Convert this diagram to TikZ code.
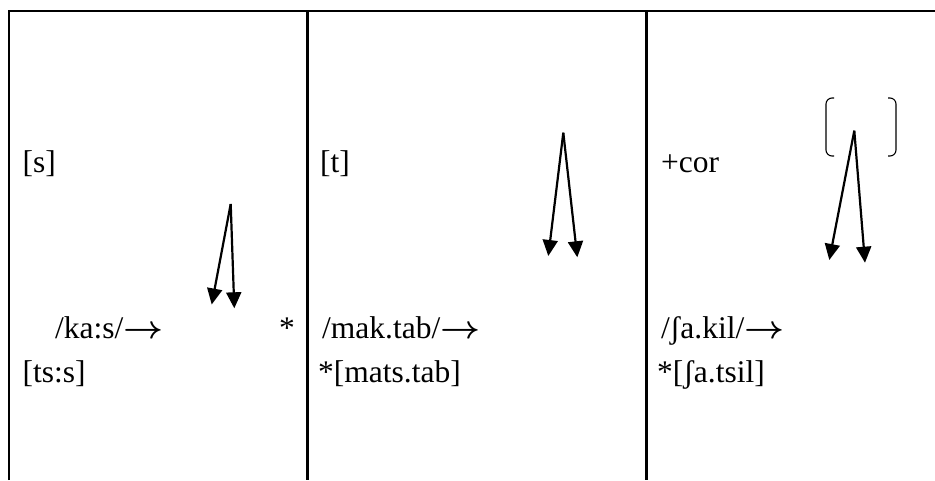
\documentclass[tikz,border=0pt]{standalone}
\usepackage{fontspec}
\setmainfont{Liberation Serif}
\usepackage{tikz}
\usetikzlibrary{arrows.meta}

\newcommand{\becomes}{\scalebox{1.4}[1.3]{\boldmath$\rightarrow$}}

\begin{document}
\begin{tikzpicture}[x=1pt, y=-1pt,
        rule/.style={line width=2.4pt},
        fork/.style={line width=2.2pt, -{Triangle[length=16pt, width=15pt]}},
        form/.style={anchor=base west, inner sep=0pt, font=\fontsize{31.5}{36}\selectfont}]
        \useasboundingbox (0,0) rectangle (935,480);

        \draw[rule] (8.7,480) -- (8.7,11.2) -- (935,11.2);
        \draw[rule] (307.3,11.2) -- (307.3,480);
        \draw[rule] (646.5,11.2) -- (646.5,480);

        \node[form] (s) at (22.5,172) {[s]};
        \node[form] (kas) at (55,338) {/ka:s/\becomes};
        \node[form] (star) at (279,338) {*};
        \node[form] (tss) at (22.5,382) {[ts:s]};

        \node[form] (t) at (320,172) {[t]};
        \node[form] (maktab) at (322,338) {/mak.tab/\becomes};
        \node[form] (matstab) at (318,382) {*[mats.tab]};

        \node[form] (cor) at (661,172) {+cor};
        \node[form] (sakil) at (661,338) {/ʃa.kil/\becomes};
        \node[form] (satsil) at (657,382) {*[ʃa.tsil]};

        \coordinate (A1) at (230.7,204);
        \coordinate (B1) at (211.7,304.5);
        \coordinate (C1) at (234.3,308.3);
        \coordinate (A2) at (563.3,132.7);
        \coordinate (B2) at (548.3,256);
        \coordinate (C2) at (577.3,257.3);
        \coordinate (A3) at (854.3,130.7);
        \coordinate (B3) at (829.3,260);
        \coordinate (C3) at (865,262.7);

        \draw[fork] (A1) -- (B1);
        \draw[fork] (A1) -- (C1);
        \draw[fork] (A2) -- (B2);
        \draw[fork] (A2) -- (C2);
        \draw[fork] (A3) -- (B3);
        \draw[fork] (A3) -- (C3);

        \draw[line width=1.1pt, rounded corners=6pt] (834,98) -- (826,98) -- (826,156) -- (834,156);
        \draw[line width=1.1pt, rounded corners=6pt] (888,98) -- (896,98) -- (896,156) -- (888,156);
    \end{tikzpicture}
\end{document}
